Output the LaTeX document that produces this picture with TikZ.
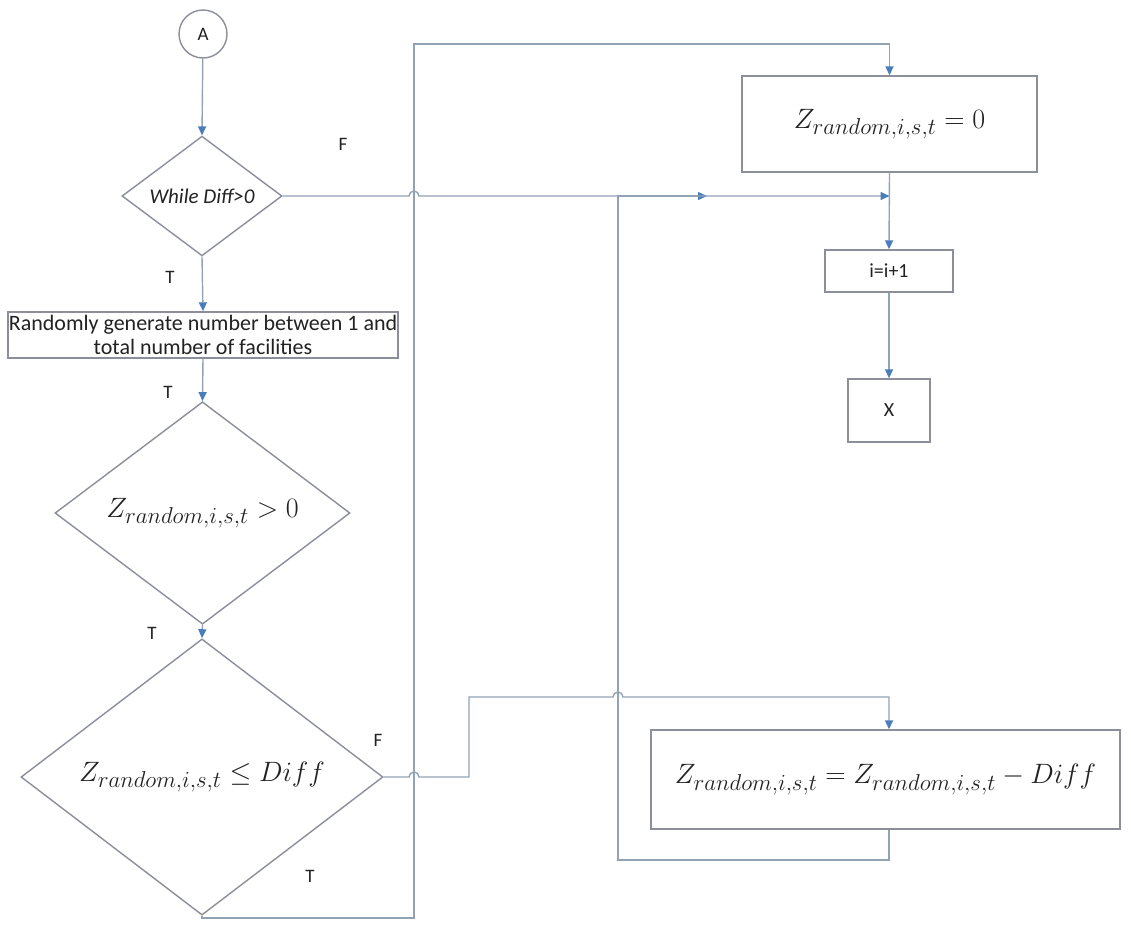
\RequirePackage{fix-cm}
\documentclass[tikz,border=0pt]{standalone}
\usepackage[no-math]{fontspec}
\setmainfont{Carlito}
\usetikzlibrary{shapes.geometric,arrows.meta,calc}
\DeclareMathSizes{28}{28}{23}{18}
\definecolor{linec}{HTML}{93A3B6}
\definecolor{tipc}{HTML}{4A7EBB}
\definecolor{shapec}{HTML}{8C8E9A}
\definecolor{txtc}{HTML}{222222}
\newcommand{\mathtxt}{\fontsize{28}{32}\selectfont}
\begin{document}
\begin{tikzpicture}[x=1pt,y=-1pt,
  shp/.style={draw=shapec,line width=1.4pt,fill=white,text=txtc,inner sep=0pt},
  boxn/.style={shp,rectangle},
  dia/.style={shp,diamond},
  circn/.style={shp,circle,minimum size=48pt,font=\fontsize{19}{22}\selectfont},
  lab/.style={text=txtc,font=\fontsize{19}{22}\selectfont,inner sep=0pt},
  conn/.style={draw=linec,line width=1.4pt},
  arr/.style={conn,-{Triangle[length=9pt,width=8pt,color=tipc]}}]
\useasboundingbox (0,0) rectangle (1131,924);

% left column
\node[circn] (A) at (203,34) {A};
\node[dia,minimum width=160pt,minimum height=118pt,font=\fontsize{21}{24}\selectfont\itshape] (d1) at (202,196) {While Diff>0};
\node[boxn,minimum width=390pt,minimum height=46pt,align=center,font=\fontsize{22}{24}\selectfont] (r2) at (203,335)
  {Randomly generate number between 1 and\\total number of facilities};
\node[dia,minimum width=295pt,minimum height=190pt,font=\mathtxt] (d2) at (202.5,513) {$Z_{random,i,s,t} > 0$};
\node[dia,minimum width=362pt,minimum height=220pt,font=\mathtxt] (d3) at (202,777) {$Z_{random,i,s,t} \leq Diff$};

% right column
\node[boxn,minimum width=295pt,minimum height=96pt,font=\mathtxt] (r1) at (889.5,124) {$Z_{random,i,s,t} = 0$};
\node[boxn,minimum width=128pt,minimum height=42pt,font=\fontsize{20}{22}\selectfont] (ri) at (889,271) {i=i+1};
\node[boxn,minimum width=82pt,minimum height=63pt,font=\fontsize{20}{22}\selectfont] (X) at (889,410.5) {X};
\node[boxn,minimum width=469pt,minimum height=99pt,font=\mathtxt] (r4) at (885.5,779.5) {$Z_{random,i,s,t} = Z_{random,i,s,t} - Diff$};

% routing points
\coordinate (xa) at (414,918);
\coordinate (top) at (414,44);
\coordinate (xb) at (618,860);
\coordinate (xc) at (469,697);
\coordinate (mid) at (707,196);

% branch labels
\node[lab] (lF1) at (343,144) {F};
\node[lab] (lT1) at (170,277) {T};
\node[lab] (lT2) at (168,392) {T};
\node[lab] (lT3) at (152,633) {T};
\node[lab] (lF2) at (378,740) {F};
\node[lab] (lT4) at (310,876) {T};

% straight connectors
\draw[arr] (A) -- (d1.north);
\draw[arr] (d1.south) -- (r2.north);
\draw[arr] (r2.south) -- (d2.north);
\draw[arr] (d2.south) -- (d3.north);
\draw[arr] (r1.south) -- (ri.north);
\draw[arr] (ri.south) -- (X.north);

% T branch of the last test, up and over to the top box
\draw[arr] (d3.south) -- (d3.south |- xa) -- (xa) -- (top) -- (top -| r1.north) -- (r1.north);

% loop back from the subtraction box
\draw[arr] (r4.south -| ri.south) -- (ri.south |- xb) -- (xb) -- (xb |- d1.east) -- (mid);

% F branch of the while test, hopping over the vertical line
\draw[arr] (d1.east) -- ($(xa |- d1.east)+(-5,0)$) arc[start angle=180,end angle=0,radius=5pt]
  -- (r1.south |- d1.east);

% F branch of the last test
\draw[arr] (d3.east) -- ($(xa |- d3.east)+(-5,0)$) arc[start angle=180,end angle=0,radius=5pt]
  -- (xc |- d3.east) -- (xc) -- ($(xb |- xc)+(-5,0)$) arc[start angle=180,end angle=0,radius=5pt]
  -- (xc -| ri.south) -- (ri.south |- r4.north);
\end{tikzpicture}
\end{document}
